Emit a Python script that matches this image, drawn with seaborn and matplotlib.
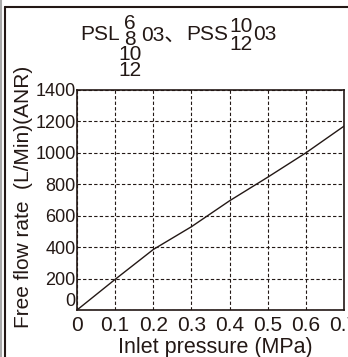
import matplotlib
matplotlib.use("Agg")
import matplotlib.pyplot as plt
import seaborn as sns
import pandas as pd
from matplotlib.lines import Line2D

# data
pressure = [0.0, 0.1, 0.2, 0.3, 0.4, 0.5, 0.6, 0.7]
flow = [0, 195, 385, 530, 695, 845, 1000, 1170]
x_ticks = [0, 0.1, 0.2, 0.3, 0.4, 0.5, 0.6, 0.7]
x_labels = ["0", "0.1", "0.2", "0.3", "0.4", "0.5", "0.6", "0.7"]
y_ticks = [0, 200, 400, 600, 800, 1000, 1200, 1400]

df = pd.DataFrame({"pressure": pressure, "flow": flow})

sns.set_style("white")
plt.rcParams['font.family'] = ['Liberation Sans', 'Noto Sans CJK JP', 'DejaVu Sans']
ink = "#231815"

W, H = 348, 357
fig = plt.figure(figsize=(W / 100, H / 100), dpi=100)
ax = fig.add_axes([77 / W, 1 - 310 / H, (344 - 77) / W, (310 - 90) / H])

sns.lineplot(x="pressure", y="flow", data=df, color=ink, linewidth=1.0, ax=ax)

ax.set_xlim(0, 0.7)
ax.set_ylim(0, 1400)
ax.set_xticks(x_ticks)
ax.set_xticklabels(x_labels)
ax.set_yticks(y_ticks)
ax.grid(True, color=ink, linestyle=(0, (3, 2)), linewidth=0.8)
ax.tick_params(axis="x", length=0, labelsize=15, colors=ink, pad=4)
ax.tick_params(axis="y", length=0, labelsize=13, colors=ink, pad=1)
for s in ax.spines.values():
    s.set_color(ink)
    s.set_linewidth(1.2)

# the y "0" sits on the axis line, above the x "0"
fig.canvas.draw()
ax.get_yticklabels()[0].set_verticalalignment("bottom")

ax.set_xlabel("Inlet pressure (MPa)", fontsize=15.5, color=ink)
ax.set_ylabel("Free flow rate  (L/Min)(ANR)", fontsize=15, color=ink)
ax.xaxis.set_label_coords((215 - 77) / 267, (310 - 337) / 220)
ax.yaxis.set_label_coords((33 - 77) / 267, (310 - 197) / 220)

# model title with stacked sizes
fs = 15
fig.text(80 / W, 1 - 34 / H, "PSL", fontsize=fs, color=ink, ha="left", va="center")
fig.text(130 / W, 1 - 47 / H, "6\n8\n10\n12", fontsize=fs, color=ink,
         ha="center", va="center", multialignment="center", linespacing=0.78)
fig.text(141 / W, 1 - 35 / H, "03、", fontsize=fs, color=ink, ha="left", va="center")
fig.text(186 / W, 1 - 34 / H, "PSS", fontsize=fs, color=ink, ha="left", va="center")
fig.text(241 / W, 1 - 35.5 / H, "10\n12", fontsize=fs, color=ink,
         ha="center", va="center", multialignment="center", linespacing=0.98)
fig.text(253 / W, 1 - 35 / H, "03", fontsize=fs, color=ink, ha="left", va="center")

# outer frame
fig.add_artist(Line2D([5 / W, 1], [1 - 7 / H] * 2, color=ink, linewidth=1.5))
fig.add_artist(Line2D([5 / W] * 2, [0, 1 - 7 / H], color=ink, linewidth=1.5))
fig.add_artist(Line2D([1 / W] * 2, [0, 1], color="#aaaaaa", linewidth=1.5))

fig.savefig("out.png", dpi=100)
